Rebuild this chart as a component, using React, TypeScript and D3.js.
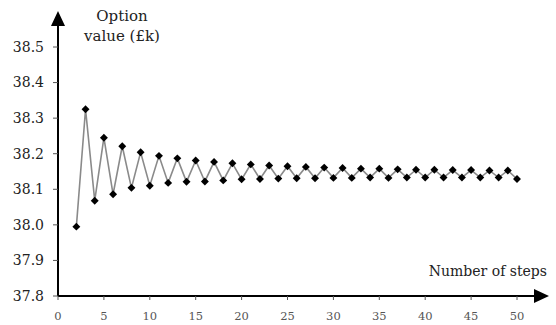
import React from 'react';
import * as d3 from 'd3';

// option value (£k) against number of binomial steps
const steps = d3.range(2, 51);
const optionValues = [
  37.995, 38.325, 38.068, 38.245, 38.086, 38.221, 38.104, 38.204, 38.110, 38.194,
  38.118, 38.187, 38.121, 38.181, 38.122, 38.177, 38.125, 38.173, 38.128, 38.170,
  38.129, 38.167, 38.130, 38.165, 38.131, 38.163, 38.131, 38.161, 38.132, 38.160,
  38.132, 38.158, 38.133, 38.158, 38.132, 38.156, 38.133, 38.155, 38.133, 38.155,
  38.133, 38.154, 38.133, 38.154, 38.133, 38.153, 38.133, 38.153, 38.129,
];
const xTicks = [0, 5, 10, 15, 20, 25, 30, 35, 40, 45, 50];
const yTicks = [37.8, 37.9, 38.0, 38.1, 38.2, 38.3, 38.4, 38.5];

const W = 556;
const H = 325;
const font = "'DejaVu Serif', 'Liberation Serif', serif";

const App = () => {
  const x = d3.scaleLinear().domain([0, 50]).range([58, 517]);
  const y = d3.scaleLinear().domain([37.8, 38.5]).range([296, 47]);

  const pts = steps.map((s, i) => [x(s), y(optionValues[i])] as [number, number]);
  const line = d3.line()(pts) || '';

  const x0 = x(0);
  const y0 = y(37.8);
  const diamond = d3.symbol().type(d3.symbolDiamond2).size(40)() || '';
  const txt = { fontFamily: font };

  return (
    <svg
      width={W}
      height={H}
      style={{ position: 'absolute', left: 0, top: 0, background: '#fff' }}
    >
      {/* y axis with arrow */}
      <line x1={x0} y1={y0} x2={x0} y2={24} stroke="#000" strokeWidth={2} />
      <path d={`M${x0 - 7},26 L${x0},11 L${x0 + 7},26 Z`} fill="#000" />
      {/* x axis with arrow */}
      <line x1={x0} y1={y0} x2={536} y2={y0} stroke="#000" strokeWidth={2} />
      <path d={`M534,${y0 - 7} L549,${y0} L534,${y0 + 7} Z`} fill="#000" />

      {yTicks.map((t) => (
        <g key={t}>
          <line x1={x0 - 5} x2={x0} y1={y(t)} y2={y(t)} stroke="#555" strokeWidth={1} />
          <text x={44} y={y(t)} dy="0.35em" textAnchor="end" fontSize={14} fill="#222" style={txt}>
            {t.toFixed(1)}
          </text>
        </g>
      ))}
      {xTicks.map((t) => (
        <g key={t}>
          <line x1={x(t)} x2={x(t)} y1={y0} y2={y0 + 4} stroke="#555" strokeWidth={1} />
          <text x={x(t)} y={320} textAnchor="middle" fontSize={11.5} fill="#555" style={txt}>
            {t}
          </text>
        </g>
      ))}

      <path d={line} fill="none" stroke="#8a8a8a" strokeWidth={1.6} />
      {pts.map(([px, py], i) => (
        <path key={i} d={diamond} transform={`translate(${px},${py})`} fill="#000" />
      ))}

      <text x={122} y={21} textAnchor="middle" fontSize={15} fill="#222" style={txt}>Option</text>
      <text x={122} y={41} textAnchor="middle" fontSize={15} fill="#222" style={txt}>value (£k)</text>
      <text x={547} y={276} textAnchor="end" fontSize={14} fill="#222" style={txt}>Number of steps</text>
    </svg>
  );
};

export default App;
